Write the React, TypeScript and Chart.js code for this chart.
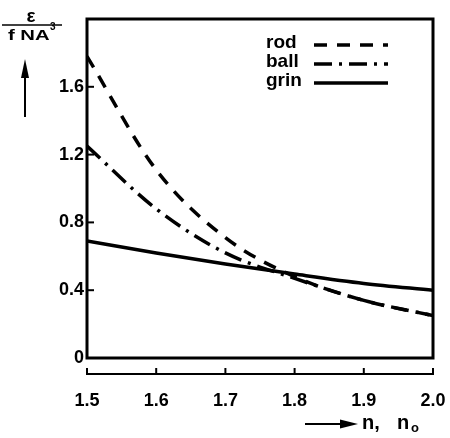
import React, { useEffect, useRef } from 'react';
import { Chart, registerables } from 'chart.js';

Chart.register(...registerables);

// ---- data ----
const N_VALUES = [1.5, 1.6, 1.7, 1.8, 1.9, 2.0];
const ROD = [1.78, 1.11, 0.71, 0.48, 0.34, 0.25];
const BALL = [1.25, 0.88, 0.62, 0.47, 0.34, 0.25];
const GRIN = [0.69, 0.62, 0.555, 0.495, 0.44, 0.4];
const SERIES_LABELS = ['rod', 'ball', 'grin'];
const X_TICKS = [1.5, 1.6, 1.7, 1.8, 1.9, 2.0];
const Y_TICKS = [0, 0.4, 0.8, 1.2, 1.6];
const Y_TITLE_TOP = 'ε';
const Y_TITLE_BOTTOM = 'f NA';
const Y_TITLE_SUP = '3';
const X_TITLE_A = 'n,';
const X_TITLE_B = 'n';
const X_TITLE_SUB = 'o';

const FONT = "'Liberation Sans', Arial, Helvetica, sans-serif";

const framePlugin = {
  id: 'frame',
  afterDraw(chart: any) {
    const { ctx, chartArea: a, scales } = chart;
    const xs = scales.x;
    const ys = scales.y;
    ctx.save();
    ctx.strokeStyle = '#000';
    ctx.fillStyle = '#000';
    ctx.lineCap = 'butt';

    // plot frame
    ctx.lineWidth = 3;
    ctx.strokeRect(a.left, a.top, a.right - a.left, a.bottom - a.top);

    // inward y ticks
    ctx.lineWidth = 2;
    Y_TICKS.forEach((v) => {
      if (v === 0) return;
      const py = ys.getPixelForValue(v);
      ctx.beginPath();
      ctx.moveTo(a.left, py);
      ctx.lineTo(a.left + 7, py);
      ctx.stroke();
    });

    // detached x axis below the frame
    const ay = a.bottom + 16;
    const x0 = xs.getPixelForValue(X_TICKS[0]);
    const x1 = xs.getPixelForValue(X_TICKS[X_TICKS.length - 1]);
    ctx.lineWidth = 2;
    ctx.beginPath();
    ctx.moveTo(x0, ay);
    ctx.lineTo(x1, ay);
    ctx.stroke();
    X_TICKS.forEach((v) => {
      const px = xs.getPixelForValue(v);
      ctx.beginPath();
      ctx.moveTo(px, ay + 1);
      ctx.lineTo(px, ay - 6);
      ctx.stroke();
    });

    // legend (text then line sample)
    chart.data.datasets.forEach((ds: any, i: number) => {
      const ly = a.top + 25 + i * 19;
      ctx.font = `bold 19px ${FONT}`;
      ctx.textAlign = 'left';
      ctx.textBaseline = 'middle';
      ctx.fillText(ds.label, a.right - 167, ly - 1);
      ctx.save();
      ctx.lineWidth = ds.borderWidth;
      ctx.setLineDash(ds.borderDash || []);
      ctx.beginPath();
      ctx.moveTo(a.right - 119, ly + 1);
      ctx.lineTo(a.right - 45, ly + 1);
      ctx.stroke();
      ctx.restore();
    });

    // y title: fraction
    ctx.textBaseline = 'alphabetic';
    ctx.textAlign = 'center';
    ctx.font = `bold 19px ${FONT}`;
    ctx.fillText(Y_TITLE_TOP, 31, 22);
    ctx.lineWidth = 1.5;
    ctx.beginPath();
    ctx.moveTo(2, 25);
    ctx.lineTo(62, 25);
    ctx.stroke();
    ctx.save();
    ctx.translate(8, 40);
    ctx.scale(1.35, 1);
    ctx.textAlign = 'left';
    ctx.font = `bold 15px ${FONT}`;
    ctx.fillText(Y_TITLE_BOTTOM, 0, 0);
    ctx.restore();
    ctx.textAlign = 'left';
    ctx.font = `bold 10px ${FONT}`;
    ctx.fillText(Y_TITLE_SUP, 50, 30);

    // y arrow
    ctx.lineWidth = 2;
    ctx.beginPath();
    ctx.moveTo(25, 117);
    ctx.lineTo(25, 72);
    ctx.stroke();
    ctx.beginPath();
    ctx.moveTo(25, 59);
    ctx.lineTo(21, 78);
    ctx.lineTo(29, 78);
    ctx.closePath();
    ctx.fill();

    // x title arrow and text
    const ty = a.bottom + 66;
    ctx.beginPath();
    ctx.moveTo(305, ty);
    ctx.lineTo(344, ty);
    ctx.stroke();
    ctx.beginPath();
    ctx.moveTo(358, ty);
    ctx.lineTo(340, ty - 4.5);
    ctx.lineTo(340, ty + 4.5);
    ctx.closePath();
    ctx.fill();
    ctx.font = `bold 20px ${FONT}`;
    ctx.fillText(X_TITLE_A, 362, ty + 5);
    ctx.fillText(X_TITLE_B, 397, ty + 5);
    ctx.font = `bold 13px ${FONT}`;
    ctx.fillText(X_TITLE_SUB, 411, ty + 8);

    ctx.restore();
  },
};

export default function App() {
  const ref = useRef<HTMLCanvasElement | null>(null);

  useEffect(() => {
    if (!ref.current) return;
    const mk = (vals: number[]) => N_VALUES.map((x, i) => ({ x, y: vals[i] }));
    const chart = new Chart(ref.current, {
      type: 'line',
      data: {
        datasets: [
          {
            label: SERIES_LABELS[0],
            data: mk(ROD),
            borderColor: '#000',
            borderWidth: 3.5,
            borderDash: [13, 10],
            pointRadius: 0,
            cubicInterpolationMode: 'monotone',
            fill: false,
          },
          {
            label: SERIES_LABELS[1],
            data: mk(BALL),
            borderColor: '#000',
            borderWidth: 3.5,
            borderDash: [18, 7, 3, 7],
            pointRadius: 0,
            cubicInterpolationMode: 'monotone',
            fill: false,
          },
          {
            label: SERIES_LABELS[2],
            data: mk(GRIN),
            borderColor: '#000',
            borderWidth: 3.5,
            pointRadius: 0,
            cubicInterpolationMode: 'monotone',
            fill: false,
          },
        ],
      },
      options: {
        animation: false,
        responsive: false,
        devicePixelRatio: 1,
        layout: { padding: { left: 0, top: 19, right: 17, bottom: 0 } },
        plugins: { legend: { display: false }, tooltip: { enabled: false } },
        scales: {
          x: {
            type: 'linear',
            min: 1.5,
            max: 2.0,
            afterBuildTicks: (s: any) => {
              s.ticks = X_TICKS.map((v) => ({ value: v }));
            },
            afterFit: (s: any) => {
              s.height = 80;
              s.paddingLeft = 4;
              s.paddingRight = 4;
            },
            grid: { display: false, drawTicks: false },
            border: { display: false },
            ticks: {
              autoSkip: false,
              maxRotation: 0,
              padding: 32,
              color: '#000',
              font: { family: FONT, size: 18, weight: 'bold' },
              callback: (v: any) => Number(v).toFixed(1),
            },
          },
          y: {
            type: 'linear',
            min: 0,
            max: 2.0,
            afterBuildTicks: (s: any) => {
              s.ticks = Y_TICKS.map((v) => ({ value: v }));
            },
            afterFit: (s: any) => {
              s.width = 87;
            },
            grid: { display: false, drawTicks: false },
            border: { display: false },
            ticks: {
              padding: 3,
              color: '#000',
              font: { family: FONT, size: 18, weight: 'bold' },
              callback: (v: any) => (Number(v) === 0 ? '0' : Number(v).toFixed(1)),
            },
          },
        },
      },
      plugins: [framePlugin],
    } as any);
    return () => chart.destroy();
  }, []);

  return (
    <div style={{ position: 'absolute', left: 0, top: 0, width: 450, height: 438, background: '#fff' }}>
      <canvas ref={ref} width={450} height={438} style={{ display: 'block' }} />
    </div>
  );
}
